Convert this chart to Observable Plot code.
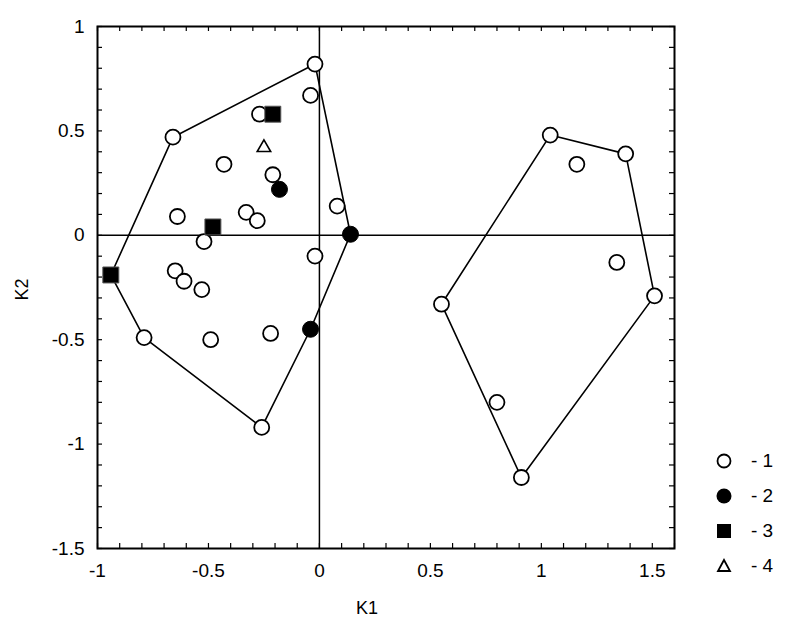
<!DOCTYPE html>
<html>
<head>
<meta charset="utf-8">
<script src="https://cdn.jsdelivr.net/npm/d3@7"></script>
<script src="https://cdn.jsdelivr.net/npm/@observablehq/plot@0.6"></script>
<style>
  html, body { margin: 0; padding: 0; background: #fff; }
  #wrap { position: relative; width: 790px; height: 633px; font-family: "Liberation Sans", Arial, sans-serif; }
  #legend { position: absolute; left: 712px; top: 443px; font-size: 19px; color: #000; }
  #legend .item { display: flex; align-items: center; height: 35px; }
  #legend svg { width: 24px; height: 24px; margin-right: 15px; }
</style>
</head>
<body>
<div id="wrap"></div>
<script>
// Group 1 (open circles)
const g1K1 = [-0.02, -0.04, -0.66, -0.27, -0.43, -0.21, -0.33, -0.28, -0.64, 0.08, -0.52, -0.02, -0.65, -0.61, -0.53, -0.79, -0.49, -0.22, -0.26,
              1.04, 1.16, 1.38, 1.34, 1.51, 0.55, 0.80, 0.91];
const g1K2 = [0.82, 0.67, 0.47, 0.58, 0.34, 0.29, 0.11, 0.07, 0.09, 0.14, -0.03, -0.10, -0.17, -0.22, -0.26, -0.49, -0.50, -0.47, -0.92,
              0.48, 0.34, 0.39, -0.13, -0.29, -0.33, -0.80, -1.16];
const g1Cluster = ["A","A","A","A","A","A","A","A","A","A","A","A","A","A","A","A","A","A","A",
                   "B","B","B","B","B","B","B","B"];
// Group 2 (filled circles)
const g2K1 = [-0.18, 0.14, -0.04];
const g2K2 = [0.22, 0.005, -0.45];
// Group 3 (filled squares)
const g3K1 = [-0.21, -0.48, -0.94];
const g3K2 = [0.58, 0.04, -0.19];
// Group 4 (open triangle)
const g4K1 = [-0.25];
const g4K2 = [0.42];

const xMajor = [-1, -0.5, 0, 0.5, 1, 1.5];
const yMajor = [-1.5, -1, -0.5, 0, 0.5, 1];
const groupLabels = ["- 1", "- 2", "- 3", "- 4"];

const toPts = (xs, ys, g, cl) => xs.map((x, i) => ({x, y: ys[i], g, cluster: cl ? cl[i] : "A"}));
const pts1 = toPts(g1K1, g1K2, 1, g1Cluster);
const pts2 = toPts(g2K1, g2K2, 2);
const pts3 = toPts(g3K1, g3K2, 3);
const pts4 = toPts(g4K1, g4K2, 4);
const all = [...pts1, ...pts2, ...pts3, ...pts4];

const xMinor = d3.range(-10, 17).map(i => i / 10);
const yMinor = d3.range(-15, 11).map(i => i / 10);
const fmt = d => d3.format("")(d).replace("−", "-");

const chart = Plot.plot({
  width: 790,
  height: 633,
  marginLeft: 97,
  marginRight: 116,
  marginTop: 26,
  marginBottom: 85,
  style: {fontFamily: "Liberation Sans, Arial, sans-serif", fontSize: "19px", color: "#000", background: "#fff"},
  x: {domain: [-1, 1.6]},
  y: {domain: [-1.5, 1]},
  marks: [
    Plot.ruleX([0], {stroke: "#000", strokeWidth: 1.5}),
    Plot.ruleY([0], {stroke: "#000", strokeWidth: 1.5}),
    Plot.hull(all, {x: "x", y: "y", z: "cluster", stroke: "#000", strokeWidth: 1.6, fill: "none"}),
    // inward ticks on all four sides
    Plot.ruleX(xMinor, {x: d => d, y1: -1.5, y2: -1.5, insetTop: -5, insetBottom: 0, stroke: "#000", strokeWidth: 1.2}),
    Plot.ruleX(xMinor, {x: d => d, y1: 1, y2: 1, insetTop: 0, insetBottom: -5, stroke: "#000", strokeWidth: 1.2}),
    Plot.ruleY(yMinor, {y: d => d, x1: -1, x2: -1, insetLeft: 0, insetRight: -5, stroke: "#000", strokeWidth: 1.2}),
    Plot.ruleY(yMinor, {y: d => d, x1: 1.6, x2: 1.6, insetLeft: -5, insetRight: 0, stroke: "#000", strokeWidth: 1.2}),
    Plot.frame({stroke: "#000", strokeWidth: 2}),
    Plot.axisX({ticks: xMajor, tickSize: 0, tickPadding: 15, tickFormat: fmt, label: null, fontSize: 19}),
    Plot.axisY({ticks: yMajor, tickSize: 0, tickPadding: 13, tickFormat: fmt, label: null, fontSize: 19}),
    Plot.text(["K1"], {frameAnchor: "bottom", dx: -19, dy: 60, fontSize: 18, lineAnchor: "middle"}),
    Plot.text(["K2"], {frameAnchor: "left", dx: -75, dy: 13, rotate: -90, fontSize: 18}),
    Plot.dot(pts1, {x: "x", y: "y", r: 7.5, symbol: "circle", fill: "#fff", stroke: "#000", strokeWidth: 1.8}),
    Plot.dot(pts2, {x: "x", y: "y", r: 8, symbol: "circle", fill: "#000", stroke: "#000", strokeWidth: 1}),
    Plot.dot(pts3, {x: "x", y: "y", r: 9, symbol: "square", fill: "#000", stroke: "#555", strokeWidth: 1}),
    Plot.dot(pts4, {x: "x", y: "y", r: 5, symbol: "triangle", fill: "#fff", stroke: "#000", strokeWidth: 1.6})
  ]
});

const wrap = document.getElementById("wrap");
wrap.appendChild(chart);

// Legend
const legend = document.createElement("div");
legend.id = "legend";
const sym = [
  '<circle cx="12" cy="12" r="6.5" fill="#fff" stroke="#000" stroke-width="1.8"/>',
  '<circle cx="12" cy="12" r="7.5" fill="#000"/>',
  '<rect x="5" y="5" width="14" height="14" fill="#000"/>',
  '<path d="M12,6 L18,17 L6,17 Z" fill="#fff" stroke="#000" stroke-width="1.8"/>'
];
groupLabels.forEach((lab, i) => {
  const item = document.createElement("div");
  item.className = "item";
  item.innerHTML = `<svg viewBox="0 0 24 24">${sym[i]}</svg><span>${lab}</span>`;
  legend.appendChild(item);
});
wrap.appendChild(legend);
</script>
</body>
</html>
